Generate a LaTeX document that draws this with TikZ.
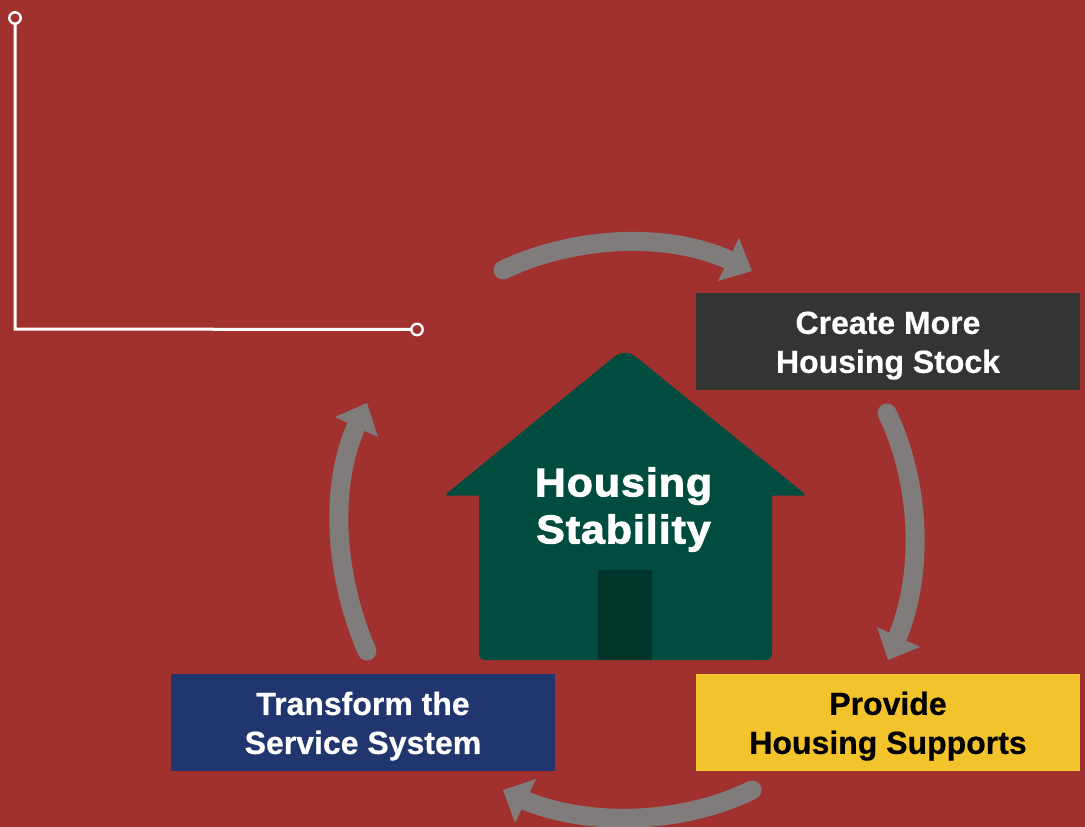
\documentclass[tikz,border=0pt]{standalone}
\usepackage{fontspec}
\setmainfont{Liberation Sans}
\newfontfamily\boxfont[BoldFeatures={FakeBold=0.5}]{Liberation Sans}
\newfontfamily\housefont[LetterSpace=2.5,BoldFeatures={FakeBold=2.5,FakeStretch=1.07}]{Liberation Sans}
\definecolor{bgred}{RGB}{160,49,46}
\definecolor{housegreen}{RGB}{0,77,64}
\definecolor{doorgreen}{RGB}{0,53,42}
\definecolor{cyclegrey}{RGB}{128,124,123}
\definecolor{stockgrey}{RGB}{52,52,50}
\definecolor{supportyellow}{RGB}{243,195,44}
\definecolor{servicenavy}{RGB}{33,54,110}
\newcommand{\boxstrut}{\rule{0pt}{30.5pt}}
\tikzset{
  goalbox/.style={inner sep=0pt,minimum width=384pt,minimum height=97pt,align=center,
    font=\boxfont\bfseries\fontsize{32}{39}\selectfont},
  cyclearrow/.style={draw=cyclegrey,line width=19pt,line cap=round},
  cyclehead/.style={fill=cyclegrey},
  pin/.style={circle,draw=white,fill=bgred,line width=2.4pt,inner sep=0pt,minimum size=11.4pt},
  pinline/.style={draw=white,line width=3pt}
}
\begin{document}
\begin{tikzpicture}[x=1pt,y=-1pt]
\fill[bgred] (0,0) rectangle (1085,827);
\useasboundingbox (0,0) rectangle (1085,827);
% house
\fill[housegreen,rounded corners=6pt] (479,480) -- (479,660) -- (772,660) -- (772,480) -- cycle;
\fill[housegreen] (625,495.7) [rounded corners=4pt] -- (807,495.7)
  [rounded corners=13pt] -- (625,348) [rounded corners=4pt] -- (444,495.7) [sharp corners] -- cycle;
\fill[doorgreen] (598,570) rectangle (652,660);
\node[inner sep=0pt,align=center,text=white,font=\housefont\bfseries\fontsize{40}{47}\selectfont]
  (stability) at (623.5,509.5) {Housing\\Stability};
% goal boxes
\node[goalbox,fill=stockgrey,text=white] (stock) at (888,341.5) {\boxstrut Create More\\Housing Stock};
\node[goalbox,fill=supportyellow,text=black] (supports) at (888,722.5) {\boxstrut Provide\\Housing Supports};
\node[goalbox,fill=servicenavy,text=white] (service) at (363,722.5) {\boxstrut Transform the\\Service System};
% cycle arrows
\coordinate (a1s) at (503,270); \coordinate (a1n) at (728,259.5); \coordinate (a1t) at (752,271);
\coordinate (a1l) at (739,238); \coordinate (a1r) at (718,281);
\coordinate (a2s) at (887,413); \coordinate (a2n) at (898,636); \coordinate (a2t) at (888,660);
\coordinate (a2l) at (920,647); \coordinate (a2r) at (877,627);
\coordinate (a3s) at (752,790); \coordinate (a3n) at (526,801); \coordinate (a3t) at (503,790);
\coordinate (a3l) at (515,823); \coordinate (a3r) at (536,779);
\coordinate (a4s) at (367,651); \coordinate (a4n) at (356,427); \coordinate (a4t) at (367,403);
\coordinate (a4l) at (335,417); \coordinate (a4r) at (378,437);
\draw[cyclearrow] (a1s) .. controls (565,240) and (658,229) .. (a1n);
\fill[cyclehead] (a1l) -- (a1t) -- (a1r) -- cycle;
\draw[cyclearrow] (a2s) .. controls (915,470) and (928,560) .. (a2n);
\fill[cyclehead] (a2l) -- (a2t) -- (a2r) -- cycle;
\draw[cyclearrow] (a3s) .. controls (692,820) and (600,830) .. (a3n);
\fill[cyclehead] (a3l) -- (a3t) -- (a3r) -- cycle;
\draw[cyclearrow] (a4s) .. controls (336,580) and (328,490) .. (a4n);
\fill[cyclehead] (a4l) -- (a4t) -- (a4r) -- cycle;
% leader line
\coordinate (elbow) at (15,329);
\coordinate (ptop) at (15,18);
\coordinate (pend) at (417,329.5);
\draw[pinline] (ptop) -- (elbow) -- (pend);
\node[pin] (pintop) at (ptop) {};
\node[pin] (pinend) at (pend) {};
\end{tikzpicture}
\end{document}
